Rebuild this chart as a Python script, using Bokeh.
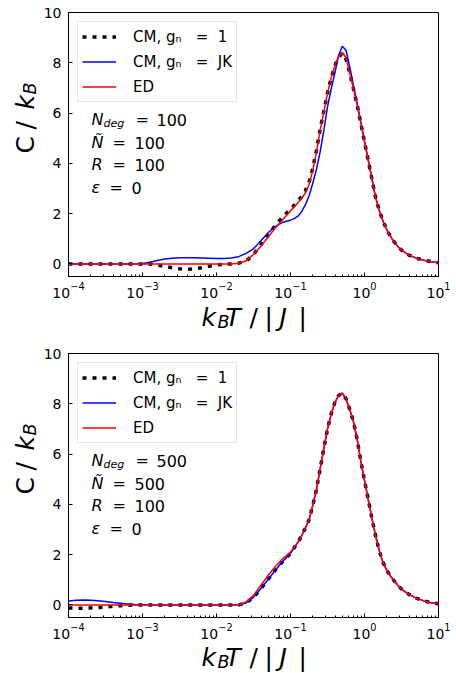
import numpy as np
from bokeh.plotting import figure
from bokeh.models import Label, FixedTicker
from bokeh.layouts import column, row
from bokeh.embed import file_html
from bokeh.resources import INLINE

# ---------------- data ----------------
log_t = [-4.0, -3.9, -3.8, -3.7, -3.6, -3.5, -3.4, -3.3, -3.2, -3.1,
         -3.0, -2.9, -2.8, -2.7, -2.6, -2.5, -2.4, -2.3, -2.2, -2.1,
         -2.0, -1.9, -1.8, -1.7, -1.6, -1.5, -1.4, -1.3, -1.2, -1.1,
         -1.0, -0.95, -0.9, -0.85, -0.8, -0.75, -0.7, -0.65, -0.6, -0.55,
         -0.5, -0.45, -0.4, -0.35, -0.3, -0.25, -0.2, -0.15, -0.1, -0.05,
         0.0, 0.05, 0.1, 0.15, 0.2, 0.25, 0.3, 0.35, 0.4, 0.45,
         0.5, 0.6, 0.7, 0.8, 0.9, 1.0]

# top panel (N_deg = 100)
top_ed = [0.0] * 23 + [0.03, 0.12, 0.38, 0.70, 1.08, 1.45, 1.78,
          2.11, 2.27, 2.43, 2.60, 2.82, 3.15, 3.70, 4.43, 5.30, 6.04,
          6.78, 7.40, 7.90, 8.25, 8.42, 8.20, 7.60, 6.98, 6.33, 5.60,
          4.86, 4.12, 3.38, 2.64, 2.12, 1.70, 1.37, 1.10, 0.88, 0.69,
          0.55, 0.35, 0.23, 0.15, 0.09, 0.05]
top_jk = [0.0] * 10 + [0.02, 0.07, 0.14, 0.20, 0.23, 0.25, 0.25, 0.25, 0.24, 0.23,
          0.22, 0.22, 0.24, 0.29, 0.42, 0.60, 0.92, 1.25, 1.50, 1.66,
          1.74, 1.80, 1.90, 2.08, 2.35, 2.70, 3.20, 3.75, 4.45, 5.30,
          6.25, 6.95, 7.60, 8.30, 8.66, 8.50, 7.85, 7.10, 6.40, 5.65,
          4.90, 4.15, 3.40, 2.65, 2.13, 1.70, 1.37, 1.10, 0.88, 0.69,
          0.55, 0.35, 0.23, 0.15, 0.09, 0.05]
top_cm = [0.0] * 12 + [-0.04, -0.10, -0.15, -0.19, -0.21, -0.20, -0.15, -0.09,
          -0.04, -0.01, 0.0, 0.03, 0.11, 0.38, 0.76, 1.15, 1.55, 1.88,
          2.18, 2.33, 2.50, 2.68, 2.90, 3.25, 3.78, 4.50, 5.35, 6.08,
          6.80, 7.40, 7.88, 8.22, 8.38, 8.15, 7.60, 6.98, 6.33, 5.60,
          4.86, 4.12, 3.38, 2.64, 2.12, 1.70, 1.37, 1.10, 0.88, 0.69,
          0.55, 0.35, 0.23, 0.15, 0.09, 0.05]

# bottom panel (N_deg = 500)
bot_ed = [0.0] * 23 + [0.01, 0.12, 0.38, 0.78, 1.18, 1.55, 1.85,
          2.10, 2.30, 2.50, 2.75, 3.05, 3.38, 3.95, 4.58, 5.40, 6.22,
          7.00, 7.60, 8.05, 8.33, 8.42, 8.20, 7.78, 7.30, 6.60, 5.72,
          4.95, 4.20, 3.45, 2.75, 2.15, 1.70, 1.38, 1.15, 0.96, 0.78,
          0.63, 0.42, 0.27, 0.16, 0.09, 0.05]
bot_jk = [0.16, 0.19, 0.20, 0.19, 0.17, 0.14, 0.10, 0.07, 0.04, 0.02,
          0.01] + [0.0] * 13 + [0.08, 0.30, 0.65, 1.02, 1.40, 1.75,
          2.05, 2.27, 2.48, 2.75, 3.05, 3.38, 3.95, 4.58, 5.40, 6.22,
          7.00, 7.60, 8.05, 8.33, 8.42, 8.20, 7.78, 7.30, 6.60, 5.72,
          4.95, 4.20, 3.45, 2.75, 2.15, 1.70, 1.38, 1.15, 0.96, 0.78,
          0.63, 0.42, 0.27, 0.16, 0.09, 0.05]
bot_cm = [-0.12, -0.13, -0.13, -0.12, -0.10, -0.08, -0.05, -0.03, -0.01, 0.0,
          0.0] + [0.0] * 13 + [0.08, 0.30, 0.65, 1.02, 1.40, 1.75,
          2.05, 2.27, 2.48, 2.75, 3.05, 3.38, 3.95, 4.58, 5.40, 6.22,
          7.00, 7.60, 8.05, 8.33, 8.42, 8.20, 7.78, 7.30, 6.60, 5.72,
          4.95, 4.20, 3.45, 2.75, 2.15, 1.70, 1.38, 1.15, 0.96, 0.78,
          0.63, 0.42, 0.27, 0.16, 0.09, 0.05]

y_ticks = [0, 2, 4, 6, 8, 10]
x_decades = [-4, -3, -2, -1, 0, 1]

NB = "\u00a0"
legend_labels = ["CM, gₙ" + NB * 3 + "=" + NB * 2 + "1",
                 "CM, gₙ" + NB * 3 + "=" + NB * 2 + "JK",
                 "ED"]
panel_params = [("100", "100", "100", "0"), ("500", "500", "100", "0")]

FONT = "DejaVu Sans"
t = [10 ** v for v in log_t]


def lab(p, text, x, y, size, italic=False, angle=0.0):
    p.add_layout(Label(x=x, y=y, x_units="screen", y_units="screen", text=text,
                       text_font=FONT, text_font_size=f"{size}px",
                       text_font_style="italic" if italic else "normal",
                       text_color="black", text_align="left",
                       text_baseline="alphabetic", angle=angle))


def text_fig(w, h):
    f = figure(width=w, height=h, x_range=(0, 1), y_range=(0, 1),
               x_axis_location=None, y_axis_location=None, min_border=0,
               output_backend="svg", toolbar_location=None)
    f.grid.visible = False
    f.outline_line_color = None
    f.background_fill_color = "white"
    f.border_fill_color = "white"
    return f


def make_panel(cm, jk, ed, params, top_border, bottom_border):
    p = figure(x_axis_type="log", x_range=(1e-4, 10), y_range=(-0.5, 10),
               frame_width=370, frame_height=264,
               min_border_left=28, min_border_right=18,
               min_border_top=top_border, min_border_bottom=bottom_border,
               output_backend="svg", toolbar_location=None)
    p.grid.visible = False
    p.outline_line_color = "black"
    p.outline_line_width = 1
    p.background_fill_color = "white"
    p.border_fill_color = "white"

    p.line(t, cm, color="black", line_width=3.5, line_dash="4 6",
           line_cap="butt", legend_label=legend_labels[0])
    p.line(t, jk, color="#0000ff", line_width=1.5, legend_label=legend_labels[1])
    p.line(t, ed, color="#ff0000", line_width=1.5, legend_label=legend_labels[2])

    p.yaxis.ticker = FixedTicker(ticks=y_ticks)
    p.xaxis.ticker = FixedTicker(
        ticks=[10.0 ** e for e in x_decades],
        minor_ticks=[m * 10.0 ** e for e in x_decades[:-1] for m in range(2, 10)])
    for ax in (p.xaxis[0], p.yaxis[0]):
        ax.axis_line_color = "black"
        ax.major_tick_in = 4
        ax.major_tick_out = 0
        ax.minor_tick_in = 2
        ax.minor_tick_out = 0
        ax.major_tick_line_color = "black"
        ax.minor_tick_line_color = "black"
        ax.major_label_text_font = FONT
        ax.major_label_text_font_size = "14px"
        ax.major_label_text_color = "black"
    p.yaxis.major_label_standoff = 7
    p.xaxis.major_label_standoff = 5

    lg = p.legend[0]
    lg.location = "top_left"
    lg.margin = 9
    lg.padding = 4
    lg.spacing = 4
    lg.label_height = 21
    lg.glyph_height = 21
    lg.glyph_width = 34
    lg.label_standoff = 17
    lg.label_text_font = FONT
    lg.label_text_font_size = "15px"
    lg.label_text_color = "black"
    lg.border_line_color = "#cccccc"
    lg.border_line_width = 1
    lg.background_fill_alpha = 0.8

    # parameter block
    nd, nt, r, eps = params
    lab(p, "N", 23, 157, 16, italic=True)
    lab(p, "deg", 35, 153, 11, italic=True)
    lab(p, "=", 67, 157, 16)
    lab(p, nd, 88, 157, 16)
    lab(p, "Ñ", 23, 134, 16, italic=True)
    lab(p, "=", 44, 134, 16)
    lab(p, nt, 66, 134, 16)
    lab(p, "R", 23, 112, 16, italic=True)
    lab(p, "=", 44, 112, 16)
    lab(p, r, 66, 112, 16)
    lab(p, "ε", 23, 89, 16, italic=True)
    lab(p, "=", 41, 89, 16)
    lab(p, eps, 63, 89, 16)
    return p


def y_label_fig(h, bottom_border):
    f = text_fig(40, h)
    a = np.pi / 2
    b = bottom_border
    lab(f, "C", 25, 99 + b, 25, angle=a)
    lab(f, "/", 25, 123 + b, 25, angle=a)
    lab(f, "k", 25, 143 + b, 25, italic=True, angle=a)
    lab(f, "B", 29, 158 + b, 17.5, italic=True, angle=a)
    return f


def x_label_fig(h, base):
    f = text_fig(456, h)
    lab(f, "k", 201, base, 25, italic=True)
    lab(f, "B", 217, base - 4, 17.5, italic=True)
    lab(f, "T", 225, base, 25, italic=True)
    lab(f, "/", 249, base, 25)
    lab(f, "|", 264, base, 25)
    lab(f, "J", 279, base, 25, italic=True)
    lab(f, "|", 298, base, 25)
    return f


p1 = make_panel(top_cm, top_jk, top_ed, panel_params[0], 12, 24)
p2 = make_panel(bot_cm, bot_jk, bot_ed, panel_params[1], 9, 23)

layout = column(
    row(y_label_fig(300, 24), p1, spacing=0),
    x_label_fig(44, 27),
    row(y_label_fig(296, 23), p2, spacing=0),
    x_label_fig(32, 16),
    spacing=0,
)
open("out.html", "w").write(file_html(layout, INLINE))
